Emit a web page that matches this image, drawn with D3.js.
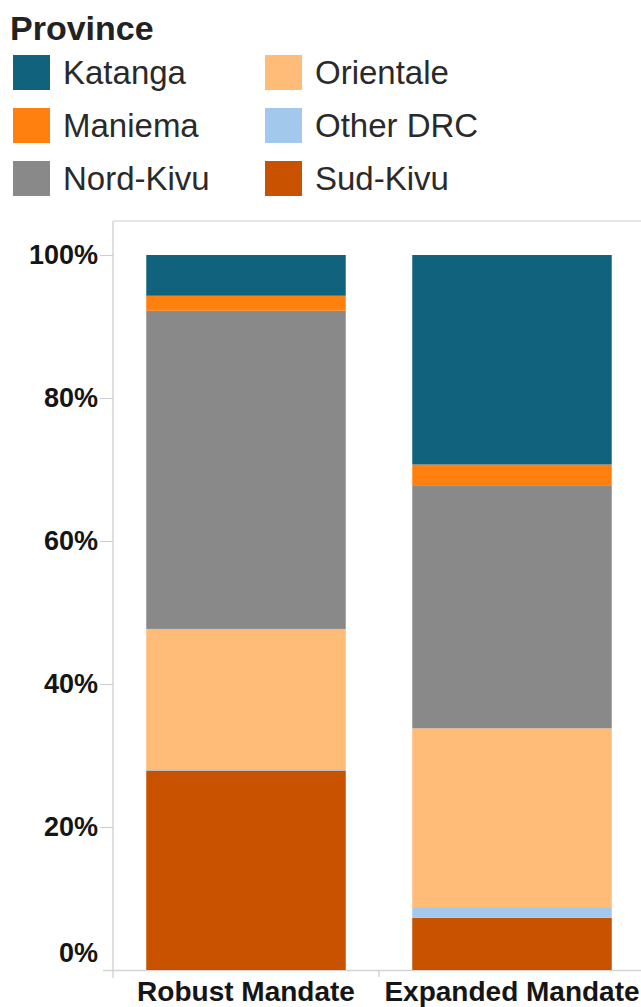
<!DOCTYPE html>
<html>
<head>
<meta charset="utf-8">
<script src="https://cdn.jsdelivr.net/npm/d3@7"></script>
<style>
  body { margin: 0; background: #fff; }
  text { font-family: "Liberation Sans", Arial, sans-serif; }
</style>
</head>
<body>
<script>
// data (percent share of each province per mandate)
const mandates = ['Robust Mandate', 'Expanded Mandate']
const provinces = ['Sud-Kivu', 'Other DRC', 'Orientale', 'Nord-Kivu', 'Maniema', 'Katanga']
const robust = [27.9, 0.2, 19.6, 44.5, 2.1, 5.7]
const expanded = [7.3, 1.5, 25.0, 33.9, 3.0, 29.3]
const legendOrder = ['Katanga', 'Maniema', 'Nord-Kivu', 'Orientale', 'Other DRC', 'Sud-Kivu']
const yTicks = [0, 20, 40, 60, 80, 100]

const colors = {
	'Katanga': '#11637d',
	'Maniema': '#ff800e',
	'Nord-Kivu': '#898989',
	'Orientale': '#ffbc79',
	'Other DRC': '#a2c8ec',
	'Sud-Kivu': '#c85200'
}

const W = 641, H = 1007
const plot = { left: 113, right: 645, top: 221, y0: 970, y100: 255 }

const svg = d3.select('body').append('svg')
	.attr('width', W)
	.attr('height', H)

// legend
svg.append('text')
	.attr('x', 10).attr('y', 40)
	.style('font-size', '34px').style('font-weight', 'bold')
	.attr('fill', '#222')
	.text('Province')

const leg = svg.selectAll('.leg').data(legendOrder).enter()
	.append('g')
		.attr('class', 'leg')
		.attr('transform', (d, i) => `translate(${i < 3 ? 13 : 265},${55 + (i % 3) * 53})`)
leg.append('rect')
	.attr('width', 37).attr('height', 35)
	.attr('fill', d => colors[d])
leg.append('text')
	.attr('x', 50).attr('y', 29)
	.style('font-size', '33px')
	.attr('fill', '#2a2a2a')
	.text(d => d)

// scales
const x = d3.scaleBand()
	.domain(mandates)
	.range([plot.left, plot.right])
	.paddingInner(0.25)
	.paddingOuter(0.125)

const y = d3.scaleLinear()
	.domain([0, 100])
	.range([plot.y0, plot.y100])

// frame lines
svg.append('line')
	.attr('x1', plot.left).attr('x2', W)
	.attr('y1', plot.top).attr('y2', plot.top)
	.attr('stroke', '#ddd').attr('stroke-width', 1.5)
svg.append('line')
	.attr('x1', plot.left).attr('x2', plot.left)
	.attr('y1', plot.top).attr('y2', 978)
	.attr('stroke', '#d4d4d4').attr('stroke-width', 1.5)
svg.append('line')
	.attr('x1', 103).attr('x2', W)
	.attr('y1', plot.y0 + 0.5).attr('y2', plot.y0 + 0.5)
	.attr('stroke', '#d4d4d4').attr('stroke-width', 1.5)
// divider between the two mandates
svg.append('line')
	.attr('x1', x.step() + plot.left).attr('x2', x.step() + plot.left)
	.attr('y1', plot.y0).attr('y2', plot.y0 + 7)
	.attr('stroke', '#d4d4d4').attr('stroke-width', 1.5)

// stacked bars
const rows = mandates.map((m, i) => {
	const vals = i === 0 ? robust : expanded
	const row = { mandate: m }
	provinces.forEach((p, j) => row[p] = vals[j])
	return row
})
const series = d3.stack().keys(provinces)(rows)

svg.append('g')
	.selectAll('g')
	.data(series)
	.enter().append('g')
		.attr('fill', d => colors[d.key])
	.selectAll('rect')
	.data(d => d)
	.enter().append('rect')
		.attr('x', d => x(d.data.mandate))
		.attr('width', x.bandwidth())
		.attr('y', d => y(d[1]))
		.attr('height', d => y(d[0]) - y(d[1]))

// y axis
const yAxis = d3.axisLeft(y)
	.tickValues(yTicks)
	.tickFormat(d => d + '%')
	.tickSize(13)
	.tickPadding(2)

const ya = svg.append('g')
	.attr('transform', `translate(${plot.left},0)`)
	.call(yAxis)
ya.select('.domain').remove()
ya.selectAll('.tick line').attr('stroke', '#ccc')
ya.selectAll('.tick text')
	.style('font-size', '27px').style('font-weight', 'bold')
	.attr('fill', '#151515')
	.attr('font-family', null)
ya.selectAll('.tick').filter(d => d === 0)
	.each(function () {
		d3.select(this).select('line').remove()
		d3.select(this).select('text').attr('dy', '-0.3em')
	})

// x axis labels
const xAxis = d3.axisBottom(x).tickSize(0).tickPadding(11)
const xa = svg.append('g')
	.attr('transform', `translate(0,${plot.y0})`)
	.call(xAxis)
xa.select('.domain').remove()
xa.selectAll('.tick text')
	.style('font-size', '28px').style('font-weight', 'bold')
	.attr('fill', '#151515')
	.attr('font-family', null)
</script>
</body>
</html>
